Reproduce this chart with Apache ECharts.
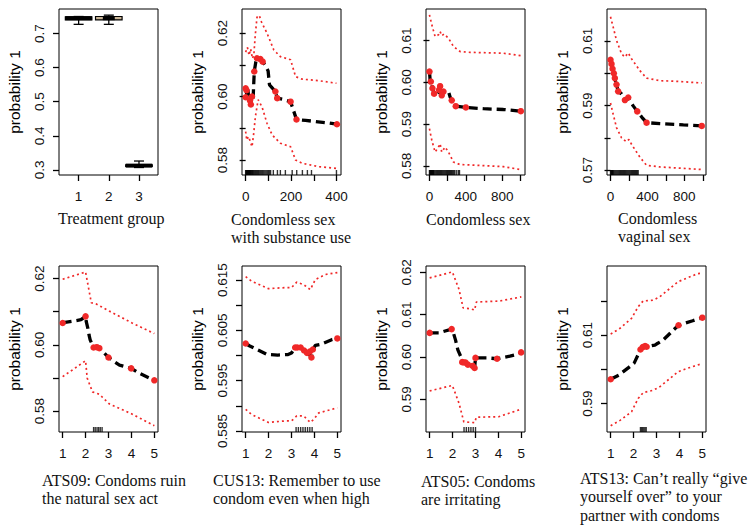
<!DOCTYPE html>
<html><head><meta charset="utf-8">
<script src="https://cdn.jsdelivr.net/npm/echarts@6/dist/echarts.min.js"></script>
<style>html,body{margin:0;padding:0;background:#fff}#c{width:754px;height:532px}</style>
</head><body><div id="c"></div>
<script>
// ---------- Panel 1: Treatment group (boxplots) ----------
const treatGroups = [1, 2, 3];
const treatLow = [0.727, 0.727, 0.307];
const treatQ1 = [0.740, 0.740, 0.3100];
const treatMedian = [0.745, 0.745, 0.3125];
const treatQ3 = [0.749, 0.750, 0.315];
const treatHigh = [0.750, 0.754, 0.326];
const p1XTicks = [1, 2, 3];
const p1YTicks = [0.3, 0.4, 0.5, 0.6, 0.7];
const p1YLabels = [0.3, 0.4, 0.5, 0.6, 0.7];

// ---------- Panel 2: Condomless sex with substance use ----------
const p2Est = [[0,0.6026],[3,0.6018],[6,0.5998],[10,0.6022],[14,0.5990],[19,0.5985],[23,0.5975],[28,0.6000],[33,0.5995],[38,0.6079],[45,0.6110],[50,0.6121],[65,0.6118],[75,0.6110],[87,0.6098],[99,0.6081],[105,0.6037],[114,0.6030],[131,0.6016],[139,0.5995],[161,0.5992],[198,0.5984],[224,0.5928],[264,0.5925],[353,0.5918],[402,0.5913]];
const p2Dots = [[0,0.6026],[4,0.6020],[0,0.5998],[19,0.5988],[23,0.5975],[28,0.6000],[38,0.6079],[50,0.6121],[65,0.6118],[75,0.6110],[131,0.6016],[139,0.5995],[198,0.5984],[224,0.5928],[402,0.5913]];
const p2Upper = [[0,0.6140],[8,0.6155],[15,0.6130],[22,0.6150],[30,0.6120],[36,0.6130],[42,0.6190],[50,0.6250],[60,0.6256],[70,0.6235],[94,0.6200],[124,0.6147],[153,0.6126],[198,0.6116],[220,0.6063],[249,0.6055],[323,0.6050],[400,0.6042]];
const p2Lower = [[0,0.5890],[5,0.5863],[12,0.5874],[20,0.5860],[28,0.5842],[35,0.5880],[43,0.5937],[55,0.5990],[72,0.5968],[94,0.5916],[117,0.5879],[153,0.5853],[198,0.5842],[220,0.5800],[249,0.5790],[323,0.5779],[400,0.5774]];
const p2Rug = [0,2,4,6,8,10,12,14,16,18,20,22,25,28,30,33,36,40,44,48,52,56,60,65,70,75,80,85,90,95,100,105,110,122,140,153,175,205,225,250,272,290,400];
const p2XTicks = [0, 100, 200, 300, 400];
const p2XLabels = [0, 200, 400];
const p2YTicks = [0.58, 0.59, 0.60, 0.61, 0.62];
const p2YLabels = [0.58, 0.60, 0.62];

// ---------- Panel 3: Condomless sex ----------
const p3Est = [[0,0.6026],[4,0.6015],[7,0.6006],[15,0.6002],[25,0.5995],[33,0.5986],[51,0.5973],[80,0.5969],[100,0.5976],[106,0.5982],[117,0.5991],[135,0.5969],[154,0.5978],[172,0.5980],[209,0.5978],[227,0.5965],[245,0.5957],[289,0.5943],[400,0.5940],[593,0.5937],[813,0.5935],[1004,0.5931]];
const p3Dots = [[0,0.6026],[15,0.6002],[33,0.5986],[51,0.5973],[106,0.5982],[117,0.5991],[135,0.5969],[154,0.5978],[245,0.5957],[289,0.5943],[400,0.5940],[1004,0.5931]];
const p3Upper = [[0,0.6162],[26,0.6138],[62,0.6110],[99,0.6114],[117,0.6122],[135,0.6112],[161,0.6116],[209,0.6106],[264,0.6086],[337,0.6074],[447,0.6072],[813,0.6070],[1004,0.6064]];
const p3Lower = [[0,0.5889],[26,0.5861],[62,0.5833],[99,0.5845],[117,0.5853],[135,0.5833],[172,0.5845],[209,0.5833],[264,0.5809],[337,0.5803],[447,0.5802],[813,0.5798],[1004,0.5791]];
const p3Rug = [0,5,10,15,20,25,30,35,40,45,50,60,70,80,90,100,110,120,130,140,150,160,170,180,190,200,210,220,230,240,250,260,270,280,300,320,330];
const p3XTicks = [0, 200, 400, 600, 800, 1000];
const p3XLabels = [0, 400, 800];
const p3YTicks = [0.58, 0.59, 0.60, 0.61];
const p3YLabels = [0.58, 0.59, 0.60, 0.61];

// ---------- Panel 4: Condomless vaginal sex ----------
const p4Est = [[0,0.6042],[11,0.6029],[22,0.6014],[36,0.6000],[47,0.5982],[65,0.5965],[83,0.5944],[120,0.5936],[156,0.5917],[192,0.5925],[210,0.5915],[246,0.5899],[290,0.5882],[348,0.5861],[391,0.5847],[536,0.5844],[790,0.5840],[989,0.5837]];
const p4Dots = [[0,0.6042],[11,0.6029],[22,0.6014],[36,0.6000],[47,0.5985],[65,0.5965],[83,0.5944],[156,0.5917],[192,0.5925],[290,0.5882],[391,0.5847],[989,0.5837]];
const p4Upper = [[0,0.6175],[29,0.6143],[65,0.6102],[120,0.6060],[156,0.6050],[192,0.6063],[228,0.6045],[319,0.6008],[391,0.5985],[536,0.5977],[717,0.5975],[989,0.5970]];
const p4Lower = [[0,0.5908],[29,0.5873],[65,0.5832],[120,0.5800],[170,0.5788],[200,0.5795],[228,0.5780],[319,0.5740],[391,0.5715],[536,0.5710],[989,0.5702]];
const p4Rug = [0,5,10,15,20,25,30,40,50,60,70,80,90,100,110,120,130,140,150,160,170,180,190,200,210,220,230,240,250,260,270,280,290,300];
const p4XTicks = [0, 200, 400, 600, 800, 1000];
const p4XLabels = [0, 400, 800];
const p4YTicks = [0.57, 0.58, 0.59, 0.60, 0.61];
const p4YLabels = [0.57, 0.59, 0.61];

// ---------- Panel 5: ATS09 ----------
const p5Est = [[1,0.6066],[1.1,0.6068],[1.4,0.6071],[1.8,0.6076],[2.0,0.6086],[2.03,0.6070],[2.1,0.6050],[2.15,0.6030],[2.2,0.6015],[2.35,0.5992],[2.49,0.5993],[2.6,0.5990],[2.67,0.5985],[3.0,0.5962],[3.26,0.5949],[3.48,0.5939],[3.99,0.5929],[4.35,0.5914],[5,0.5893]];
const p5Dots = [[1,0.6066],[2,0.6086],[2.35,0.5992],[2.49,0.5993],[2.6,0.5990],[3,0.5962],[3.99,0.5929],[5,0.5893]];
const p5Upper = [[1,0.6198],[2,0.6220],[2.25,0.6127],[2.45,0.6124],[3.03,0.6102],[4.03,0.6066],[5,0.6034]];
const p5Lower = [[1,0.5904],[2,0.5952],[2.07,0.5900],[2.3,0.5858],[2.6,0.5851],[3.03,0.5822],[4,0.5792],[5,0.5756]];
const p5Rug = [2.35,2.42,2.5,2.57,2.64,2.72];
const p5YTicks = [0.58, 0.59, 0.60, 0.61, 0.62];
const p5YLabels = [0.58, 0.60, 0.62];

// ---------- Panel 6: CUS13 ----------
const p6Est = [[1,0.6024],[1.18,0.6019],[1.4,0.6014],[1.95,0.6002],[2.4,0.6001],[2.85,0.6002],[3.0,0.6005],[3.16,0.6016],[3.3,0.6017],[3.4,0.6016],[3.5,0.6012],[3.68,0.6005],[3.78,0.6002],[3.87,0.5996],[3.93,0.6012],[4.04,0.6020],[4.26,0.6022],[4.78,0.6032],[5,0.6034]];
const p6Dots = [[1,0.6024],[3.16,0.6016],[3.25,0.6016],[3.4,0.6016],[3.55,0.6010],[3.68,0.6005],[3.8,0.6008],[3.87,0.5996],[3.93,0.6012],[5,0.6034]];
const p6Upper = [[1,0.6157],[1.25,0.6148],[1.99,0.6133],[2.72,0.6135],[3.0,0.6135],[3.23,0.6146],[3.53,0.6141],[3.82,0.6131],[4.04,0.6151],[4.48,0.6161],[5,0.6165]];
const p6Lower = [[1,0.5893],[1.25,0.5883],[1.99,0.5867],[2.72,0.5870],[3.0,0.5870],[3.23,0.5880],[3.53,0.5880],[3.82,0.5867],[3.97,0.5873],[4.19,0.5886],[5,0.5896]];
const p6Rug = [3.2,3.3,3.4,3.5,3.6,3.7,3.8,3.9];
const p6YTicks = [0.585, 0.59, 0.595, 0.60, 0.605, 0.61, 0.615];
const p6YLabels = [0.585, 0.595, 0.605, 0.615];

// ---------- Panel 7: ATS05 ----------
const p7Est = [[1,0.6057],[1.4,0.6057],[1.96,0.6066],[2.03,0.6058],[2.13,0.6040],[2.23,0.6017],[2.35,0.6002],[2.42,0.5988],[2.57,0.5987],[2.67,0.5982],[2.78,0.5982],[2.88,0.5979],[2.96,0.5974],[3.0,0.5998],[3.5,0.5998],[3.94,0.5996],[4.5,0.6002],[4.81,0.6006],[4.99,0.6011]];
const p7Dots = [[1,0.6057],[1.96,0.6066],[2.42,0.5988],[2.5,0.5987],[2.57,0.5987],[2.67,0.5982],[2.88,0.5979],[2.96,0.5974],[3,0.5998],[3.94,0.5996],[4.99,0.6011]];
const p7Upper = [[1,0.6187],[1.99,0.6201],[2.28,0.6160],[2.46,0.6116],[2.78,0.6114],[2.96,0.6111],[3.04,0.6130],[4.01,0.6132],[5,0.6142]];
const p7Lower = [[1,0.5920],[1.99,0.5933],[2.28,0.5891],[2.49,0.5847],[2.96,0.5845],[3.04,0.5858],[4.01,0.5859],[5,0.5877]];
const p7Rug = [2.5,2.6,2.7,2.8,2.9,3.0];
const p7YTicks = [0.59, 0.60, 0.61, 0.62];
const p7YLabels = [0.59, 0.60, 0.61, 0.62];

// ---------- Panel 8: ATS13 ----------
const p8Est = [[1,0.5971],[1.35,0.5983],[1.78,0.6005],[2.03,0.6019],[2.29,0.6056],[2.43,0.6066],[2.57,0.6066],[2.93,0.6071],[3.0,0.6074],[3.28,0.6085],[3.71,0.6113],[3.96,0.6129],[4.58,0.6142],[5,0.6151]];
const p8Dots = [[1,0.5971],[2.3,0.6058],[2.4,0.6065],[2.5,0.6068],[2.57,0.6066],[3.96,0.6129],[5,0.6151]];
const p8Upper = [[1,0.6103],[1.41,0.6120],[1.91,0.6149],[2.2,0.6183],[2.42,0.6200],[2.86,0.6202],[3.14,0.6212],[3.94,0.6256],[4.3,0.6266],[4.81,0.6280],[5,0.6281]];
const p8Lower = [[1,0.5835],[1.41,0.5851],[1.91,0.5876],[2.2,0.5915],[2.42,0.5932],[2.86,0.5939],[3.14,0.5949],[3.94,0.5993],[4.3,0.6002],[5,0.6017]];
const p8Rug = [2.3,2.35,2.4,2.45,2.5,2.55];
const p8YTicks = [0.59, 0.60, 0.61, 0.62];
const p8YLabels = [0.59, 0.61];

const likertTicks = [1, 2, 3, 4, 5];
const yName = 'probability 1';

const titles = [
  {lines: ['Treatment group'], x: 58, y: 218},
  {lines: ['Condomless sex', 'with substance use'], x: 231, y: 219},
  {lines: ['Condomless sex'], x: 426, y: 219},
  {lines: ['Condomless', 'vaginal sex'], x: 618, y: 218},
  {lines: ['ATS09: Condoms ruin', 'the natural sex act'], x: 42, y: 480},
  {lines: ['CUS13: Remember to use', 'condom even when high'], x: 213, y: 480},
  {lines: ['ATS05: Condoms', 'are irritating'], x: 421, y: 481},
  {lines: ['ATS13: Can\u2019t really \u201cgive', 'yourself over\u201d to your', 'partner with condoms'], x: 580, y: 478}
];

// ---------- layout (not data) ----------
const colLeft = [59, 242, 426, 607];
const rowTop = [9, 266];
const GW = 99, GH = 166;
const RED = '#f02828';
const SANS = 'Liberation Sans, Arial, sans-serif';
const SERIF = 'Liberation Serif, Times New Roman, serif';

const panels = [
  {x: [0.35, 3.63], xt: p1XTicks, xl: p1XTicks, y: [0.285, 0.772], yt: p1YTicks, yl: p1YLabels, yd: 1},
  {x: [-16, 420], xt: p2XTicks, xl: p2XLabels, y: [0.5753, 0.6276], yt: p2YTicks, yl: p2YLabels, yd: 2, est: p2Est, dots: p2Dots, up: p2Upper, lo: p2Lower, rug: p2Rug},
  {x: [-38, 1050], xt: p3XTicks, xl: p3XLabels, y: [0.5778, 0.6176], yt: p3YTicks, yl: p3YLabels, yd: 2, est: p3Est, dots: p3Dots, up: p3Upper, lo: p3Lower, rug: p3Rug},
  {x: [-38, 1035], xt: p4XTicks, xl: p4XLabels, y: [0.5685, 0.6199], yt: p4YTicks, yl: p4YLabels, yd: 2, est: p4Est, dots: p4Dots, up: p4Upper, lo: p4Lower, rug: p4Rug},
  {x: [0.84, 5.16], xt: likertTicks, xl: likertTicks, y: [0.5737, 0.6238], yt: p5YTicks, yl: p5YLabels, yd: 2, est: p5Est, dots: p5Dots, up: p5Upper, lo: p5Lower, rug: p5Rug},
  {x: [0.84, 5.16], xt: likertTicks, xl: likertTicks, y: [0.5848, 0.6178], yt: p6YTicks, yl: p6YLabels, yd: 3, est: p6Est, dots: p6Dots, up: p6Upper, lo: p6Lower, rug: p6Rug},
  {x: [0.84, 5.16], xt: likertTicks, xl: likertTicks, y: [0.5823, 0.6215], yt: p7YTicks, yl: p7YLabels, yd: 2, est: p7Est, dots: p7Dots, up: p7Upper, lo: p7Lower, rug: p7Rug},
  {x: [0.84, 5.16], xt: likertTicks, xl: likertTicks, y: [0.5817, 0.6302], yt: p8YTicks, yl: p8YLabels, yd: 2, est: p8Est, dots: p8Dots, up: p8Upper, lo: p8Lower, rug: p8Rug}
];

const grids = [], xAxes = [], yAxes = [], series = [];
panels.forEach((p, i) => {
  const col = i % 4, row = Math.floor(i / 4);
  grids.push({left: colLeft[col], top: rowTop[row], width: GW, height: GH, show: true,
    borderColor: '#000', borderWidth: 1, backgroundColor: 'transparent'});
  xAxes.push({type: 'value', gridIndex: i, min: p.x[0], max: p.x[1],
    axisLine: {show: false},
    axisTick: {show: true, length: 6, lineStyle: {color: '#000', width: 1.3}, customValues: p.xt},
    axisLabel: {customValues: p.xl, formatter: v => String(v), fontSize: 13.5, color: '#111', fontFamily: SANS, margin: 14},
    splitLine: {show: false}});
  yAxes.push({type: 'value', gridIndex: i, min: p.y[0], max: p.y[1],
    name: yName, nameLocation: 'middle', nameGap: 37,
    nameTextStyle: {fontSize: 15.5, color: '#000', fontFamily: SANS},
    axisLine: {show: false},
    axisTick: {show: true, length: 6, lineStyle: {color: '#000', width: 1.3}, customValues: p.yt},
    axisLabel: {customValues: p.yl, rotate: 90, formatter: v => v.toFixed(p.yd), fontSize: 13.5, color: '#111', fontFamily: SANS, margin: 13},
    splitLine: {show: false}});
  if (i === 0) return;
  const common = {xAxisIndex: i, yAxisIndex: i, animation: false, silent: true};
  series.push(Object.assign({type: 'line', data: p.lo, showSymbol: false, lineStyle: {color: RED, width: 1.7, type: [2, 3]}, z: 2}, common));
  series.push(Object.assign({type: 'line', data: p.up, showSymbol: false, lineStyle: {color: RED, width: 1.7, type: [2, 3]}, z: 2}, common));
  series.push(Object.assign({type: 'line', data: p.est, showSymbol: false, lineStyle: {color: '#000', width: 3.3, type: [9, 5]}, z: 3}, common));
  series.push(Object.assign({type: 'scatter', data: p.dots, symbol: 'circle', symbolSize: 6.5, itemStyle: {color: RED, opacity: 1}, z: 4}, common));
  series.push(Object.assign({type: 'scatter', data: p.rug.map(v => [v, p.y[0]]), symbol: 'rect', symbolSize: [1.4, 5], symbolOffset: [0, -2.5], clip: false, itemStyle: {color: '#000'}, z: 5}, common));
});

// boxplot (panel 1) via custom series
const boxFill = ['#000', '#c9b597', '#000'];
series.push({
  type: 'custom', xAxisIndex: 0, yAxisIndex: 0, animation: false, silent: true, clip: false,
  data: treatGroups.map((g, k) => [g, treatLow[k], treatQ1[k], treatMedian[k], treatQ3[k], treatHigh[k]]),
  renderItem: function (params, api) {
    const gx = api.value(0);
    const c = v => api.coord([gx, v]);
    const pl = c(api.value(1)), p1 = c(api.value(2)), pm = c(api.value(3)), p3 = c(api.value(4)), ph = c(api.value(5));
    const hw = api.size([0.88, 0])[0] / 2;
    const sw = 5;
    const cx = pm[0];
    const k = params.dataIndex;
    const stroke = {stroke: '#000', lineWidth: 1.3};
    return {type: 'group', children: [
      {type: 'line', shape: {x1: cx, y1: pl[1], x2: cx, y2: p1[1]}, style: stroke},
      {type: 'line', shape: {x1: cx, y1: p3[1], x2: cx, y2: ph[1]}, style: stroke},
      {type: 'line', shape: {x1: cx - sw, y1: pl[1], x2: cx + sw, y2: pl[1]}, style: stroke},
      {type: 'line', shape: {x1: cx - sw, y1: ph[1], x2: cx + sw, y2: ph[1]}, style: stroke},
      {type: 'rect', shape: {x: cx - hw, y: p3[1], width: 2 * hw, height: Math.max(1, p1[1] - p3[1])}, style: {fill: boxFill[k], stroke: '#000', lineWidth: 1.2}},
      {type: 'line', shape: {x1: cx - (k === 1 ? hw * 0.45 : hw), y1: pm[1], x2: cx + (k === 1 ? hw * 0.45 : hw), y2: pm[1]}, style: {stroke: '#000', lineWidth: 4}}
    ]};
  }
});

const graphics = [];
titles.forEach(t => {
  t.lines.forEach((ln, j) => {
    graphics.push({type: 'text', style: {
      text: ln, x: t.x, y: t.y + j * 18.5, fill: '#111',
      font: '16px ' + SERIF, fontSize: 16, fontFamily: SERIF,
      textAlign: 'left', align: 'left', textVerticalAlign: 'middle', verticalAlign: 'middle'}});
  });
});

const chart = echarts.init(document.getElementById('c'), null, {renderer: 'svg', width: 754, height: 532});
chart.setOption({
  backgroundColor: '#fff',
  animation: false,
  grid: grids, xAxis: xAxes, yAxis: yAxes, series: series, graphic: graphics
});
</script></body></html>
